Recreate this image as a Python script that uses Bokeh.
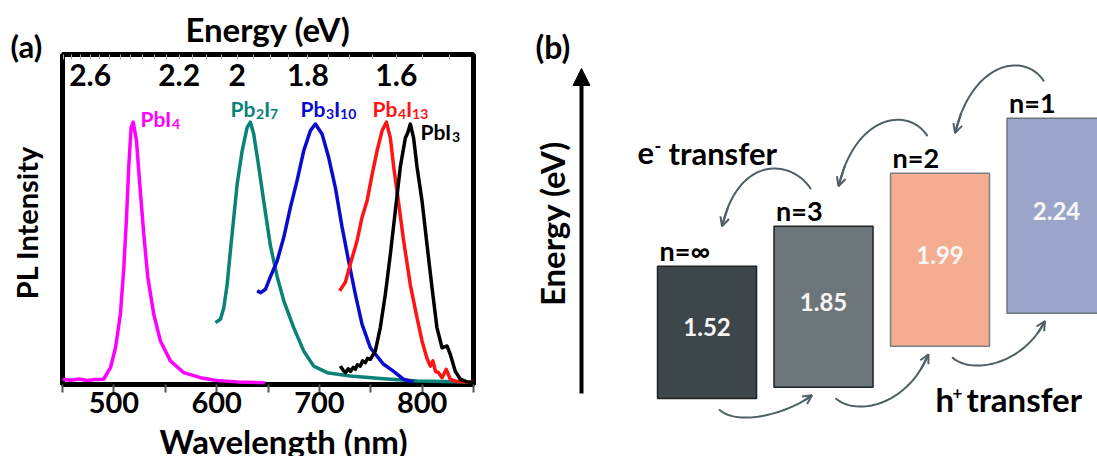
import numpy as np
from bokeh.plotting import figure
from bokeh.models import (Range1d, LinearAxis, FixedTicker, Label, Arrow,
                          OpenHead, NormalHead, ColumnDataSource)
from bokeh.layouts import row, column
from bokeh.core.properties import value
from bokeh.embed import file_html
from bokeh.resources import INLINE

FONT = "Lato"

# ---------------- (a) photoluminescence spectra ----------------
pbi4_nm = [450, 458, 466, 474, 482, 490, 496.7, 501.6, 506.4, 509.7, 512.3, 514.5, 516.8,
           518.8, 522, 525.2, 529.1, 533, 538.8, 545.3, 555, 568, 584.2, 600, 620, 647]
pbi4_int = [0.02, 0.016, 0.021, 0.015, 0.019, 0.02, 0.064, 0.14, 0.27, 0.446, 0.637, 0.83, 0.98,
            1.0, 0.93, 0.764, 0.573, 0.41, 0.268, 0.166, 0.09, 0.045, 0.026, 0.015, 0.01, 0.006]

pb2i7_nm = [598.8, 603.7, 607, 610.2, 613.4, 616.7, 620, 624.8, 629.7, 632.9, 636.1, 641,
            645.8, 652.3, 659, 665.3, 675, 684.7, 694.5, 707.5, 730, 762.5, 795, 845]
pb2i7_int = [0.236, 0.249, 0.293, 0.38, 0.51, 0.637, 0.764, 0.89, 0.98, 1.0, 0.955, 0.83,
             0.70, 0.53, 0.41, 0.32, 0.217, 0.128, 0.07, 0.045, 0.032, 0.022, 0.013, 0.01]

pb3i10_nm = [639.4, 643, 647.5, 652.3, 658.8, 665.3, 671.8, 678.3, 684.7, 691.2, 696.1,
             702.6, 709, 715.6, 722.1, 728.5, 735, 741.5, 749.6, 762.5, 772.3, 782, 791.7]
pb3i10_int = [0.357, 0.35, 0.363, 0.41, 0.47, 0.56, 0.675, 0.777, 0.89, 0.967, 0.993,
              0.955, 0.866, 0.75, 0.6, 0.47, 0.344, 0.23, 0.14, 0.077, 0.05, 0.02, 0.01]

pb4i13_nm = [719.7, 725.3, 730.2, 736.7, 741.5, 746.4, 751.3, 756.1, 761, 765.2, 769.1,
             772.3, 777.2, 782, 788.5, 795, 799.9, 804.7, 808, 810.5, 813, 816, 819.4,
             823.5, 827.4, 833, 840, 850]
pb4i13_int = [0.357, 0.39, 0.46, 0.548, 0.637, 0.70, 0.80, 0.89, 0.967, 1.0, 0.94,
              0.83, 0.69, 0.548, 0.38, 0.255, 0.166, 0.10, 0.07, 0.09, 0.05, 0.045, 0.026,
              0.058, 0.02, 0.012, 0.01, 0.01]

pbi3_nm = [720.4, 723, 725.3, 728, 730.2, 733, 735, 737, 739.9, 742, 744.7, 747, 749.6,
           754.5, 759.3, 764.2, 769.1, 773.9, 778.8, 783.7, 786, 788.5, 791.7, 795, 799.9,
           804.7, 809.6, 814.4, 819.4, 824.2, 827.4, 832.3, 837.2, 843.7, 850]
pbi3_int = [0.07, 0.055, 0.045, 0.06, 0.05, 0.065, 0.058, 0.075, 0.07, 0.09, 0.083, 0.1,
            0.096, 0.128, 0.217, 0.344, 0.497, 0.662, 0.83, 0.94, 0.96, 0.993, 0.94, 0.83,
            0.70, 0.535, 0.37, 0.217, 0.14, 0.147, 0.115, 0.05, 0.02, 0.01, 0.008]

series_nm = [pbi4_nm, pb2i7_nm, pb3i10_nm, pb4i13_nm, pbi3_nm]
series_int = [pbi4_int, pb2i7_int, pb3i10_int, pb4i13_int, pbi3_int]
series_colors = ["#ff00ff", "#0b8278", "#0a0ad0", "#ff1414", "#000000"]
# label text split into (text, is_subscript) pieces
series_labels = [
    [("PbI", 0), ("4", 1)],
    [("Pb", 0), ("2", 1), ("I", 0), ("7", 1)],
    [("Pb", 0), ("3", 1), ("I", 0), ("10", 1)],
    [("Pb", 0), ("4", 1), ("I", 0), ("13", 1)],
    [("PbI", 0), ("3", 1)],
]

wl_ticks = [500, 600, 700, 800]
wl_minor = [450, 550, 650, 750, 850]
energy_ticks = [2.6, 2.2, 2.0, 1.8, 1.6]
energy_labels = ["2.6", "2.2", "2", "1.8", "1.6"]
energy_minor = [round(1.45 + 0.05 * k, 2) for k in range(27)]

HC = 1239.84  # eV*nm, converts photon energy to wavelength

H = 456
SIDE_W = 58                       # strip holding the panel tag and the y title
A_W = 520 - SIDE_W
A_H = 426                         # spectra canvas; the x title sits in a strip below it
A_L, A_R, A_T, A_B = 4, 473 - SIDE_W, 54, 384   # frame edges inside the panel canvas
WL0, WL1 = 450, 850
I0, I1 = 0.0, 1.258


def no_frame_align(fig):
    # each canvas keeps its own frame instead of lining up with its neighbours
    if "frame_align" in fig.properties():
        fig.frame_align = False


def bare(fig):
    fig.xgrid.visible = False
    fig.ygrid.visible = False
    fig.outline_line_color = None
    fig.background_fill_color = "white"
    fig.border_fill_color = "white"
    no_frame_align(fig)


# left strip: panel tag and intensity title (pixel coordinates, y up)
ps = figure(frame_width=SIDE_W, frame_height=H, x_range=Range1d(0, SIDE_W), y_range=Range1d(0, H),
            title=None, x_axis_location=None, y_axis_location=None, min_border=0,
            output_backend="svg", toolbar_location=None)
bare(ps)
ps.text(x=[10], y=[H - 45], text=["(a)"], text_font=value(FONT), text_font_style="bold",
        text_font_size="31px", text_align="left", text_baseline="middle", text_color="black")
ps.text(x=[26], y=[H - 222], text=["PL Intensity"], angle=np.pi / 2, text_font=value(FONT),
        text_font_style="bold", text_font_size="29px", text_align="center",
        text_baseline="middle", text_color="black")

pa = figure(width=A_W, height=A_H, x_range=Range1d(WL0, WL1), y_range=Range1d(I0, I1),
            title=None, y_axis_location=None, output_backend="svg", toolbar_location=None,
            min_border_left=A_L, min_border_right=A_W - A_R,
            min_border_top=A_T, min_border_bottom=A_H - A_B)
pa.xgrid.visible = False
pa.ygrid.visible = False
pa.outline_line_color = "black"
pa.outline_line_width = 5
pa.background_fill_color = "white"
pa.border_fill_color = "white"
no_frame_align(pa)

ax = pa.xaxis[0]
ax.ticker = FixedTicker(ticks=wl_ticks, minor_ticks=wl_minor)
ax.axis_line_color = None
ax.major_tick_in = 0
ax.major_tick_out = 8
ax.minor_tick_in = 0
ax.minor_tick_out = 8
ax.major_tick_line_width = 2
ax.minor_tick_line_width = 2
ax.major_tick_line_color = "#555555"
ax.minor_tick_line_color = "#555555"
ax.major_label_text_font = FONT
ax.major_label_text_font_style = "bold"
ax.major_label_text_font_size = "29px"
ax.major_label_text_color = "black"
ax.major_label_standoff = -1

# inward minor ticks every 0.05 eV along the top edge
top = LinearAxis(ticker=FixedTicker(ticks=[], minor_ticks=[HC / e for e in energy_minor]),
                 axis_line_color=None, major_tick_in=0, major_tick_out=0,
                 minor_tick_in=5, minor_tick_out=0,
                 minor_tick_line_color="#aaaaaa", minor_tick_line_width=1,
                 axis_label="Energy (eV)", axis_label_text_font=FONT,
                 axis_label_text_font_style="bold", axis_label_text_font_size="33px",
                 axis_label_text_color="black", axis_label_standoff=6)
pa.add_layout(top, "above")

for nm, inten, col in zip(series_nm, series_int, series_colors):
    pa.line(nm, inten, line_color=col, line_width=3.5, line_join="round")

# energy scale labels, placed on the wavelength axis via E -> hc/E
pa.text(x=[HC / e for e in energy_ticks], y=[1.18] * len(energy_ticks), text=energy_labels,
        text_font=value(FONT), text_font_style="bold", text_font_size="30px",
        text_align="center", text_baseline="middle", text_color="black")

px_per_nm = (A_R - A_L) / (WL1 - WL0)
px_per_int = (A_B - A_T) / (I1 - I0)


def a_xy(sx, sy):
    """page pixel -> data coordinates of panel (a)"""
    return WL0 + (sx - SIDE_W - A_L) / px_per_nm, I0 + (A_B - sy) / px_per_int


# approximate advance widths (em) of Lato Bold glyphs used in the labels
ADV = {"P": 0.62, "b": 0.59, "I": 0.29, "0": 0.58, "1": 0.58, "2": 0.58, "3": 0.58,
       "4": 0.58, "7": 0.58}
MAIN, SUB = 21, 14
label_anchor = [(140, 117.5), (230, 107.5), (300, 107.5), (372, 107.5), (420, 130.5)]
for parts, col, (sx, sy) in zip(series_labels, series_colors, label_anchor):
    lx, ly = a_xy(sx, sy)
    off = 0.0
    for txt, sub in parts:
        size = SUB if sub else MAIN
        pa.text(x=[lx], y=[ly], text=[txt], x_offset=off, y_offset=6 if sub else 0,
                text_font=value(FONT), text_font_style="bold", text_font_size=f"{size}px",
                text_align="left", text_baseline="middle", text_color=col)
        off += sum(ADV.get(c, 0.55) for c in txt) * size

# strip under the spectra carrying the wavelength title
XT_H = H - A_H
pt = figure(frame_width=A_W, frame_height=XT_H, x_range=Range1d(0, A_W), y_range=Range1d(0, XT_H),
            title=None, x_axis_location=None, y_axis_location=None, min_border=0,
            output_backend="svg", toolbar_location=None)
bare(pt)
pt.text(x=[283 - SIDE_W], y=[H - 440], text=["Wavelength (nm)"], text_font=value(FONT),
        text_font_style="bold", text_font_size="33px", text_align="center",
        text_baseline="middle", text_color="black")

# ---------------- (b) band-alignment diagram ----------------
levels = ["n=\u221e", "n=3", "n=2", "n=1"]
gaps = [1.52, 1.85, 1.99, 2.24]
vb_offsets = [0.0, 0.13, 0.60, 0.98]
box_colors = ["#3d464a", "#6c767a", "#f5ad92", "#9ba5ca"]
box_edges = ["#1e2326", "#1e2326", "#7a7f82", "#6f7580"]
arrow_color = "#4f5f65"

B_X, B_W = 520, 577
SX, SY = 116.5, 87.0          # pixels per level slot, pixels per eV
X0 = -1.601
Y0 = -0.667
pb = figure(frame_width=B_W, frame_height=H, title=None,
            x_range=Range1d(X0, X0 + B_W / SX), y_range=Range1d(Y0, Y0 + H / SY),
            x_axis_location=None, y_axis_location=None, min_border=0,
            output_backend="svg", toolbar_location=None)
bare(pb)

idx = list(range(len(levels)))
half = 0.425
src = ColumnDataSource(dict(
    x=idx, left=[i - half for i in idx], right=[i + half for i in idx],
    bottom=vb_offsets, top=[v + g for v, g in zip(vb_offsets, gaps)],
    mid=[v + g / 2 for v, g in zip(vb_offsets, gaps)],
    gap_txt=[f"{g:.2f}" for g in gaps], name=levels,
    fill=box_colors, edge=box_edges))

pb.quad(left="left", right="right", bottom="bottom", top="top", source=src,
        fill_color="fill", line_color="edge", line_width=1.5)
pb.text(x="x", y="mid", text="gap_txt", source=src, y_offset=-5,
        text_font=value(FONT), text_font_style="bold", text_font_size="24px",
        text_align="center", text_baseline="middle", text_color="#f7f7f7")
pb.text(x="left", y="top", text="name", source=src, x_offset=2, y_offset=-16,
        text_font=value(FONT), text_font_style="bold", text_font_size="27px",
        text_align="left", text_baseline="middle", text_color="black")


def bez(p0, p1, p2, p3, n=40):
    t = np.linspace(0, 1, n)[:, None]
    pts = ((1 - t) ** 3) * np.array(p0) + 3 * ((1 - t) ** 2) * t * np.array(p1) \
        + 3 * (1 - t) * t ** 2 * np.array(p2) + t ** 3 * np.array(p3)
    return pts[:, 0], pts[:, 1]


def shift(p, dx, dy):
    """move a data point by a screen offset (right, up) in pixels"""
    return (p[0] + dx / SX, p[1] + dy / SY)


def curved_arrow(p0, c0, c1, p1):
    xs, ys = bez(p0, c0, c1, p1)
    pb.line(xs, ys, line_color=arrow_color, line_width=2)
    k = len(xs) - 5
    pb.add_layout(Arrow(end=OpenHead(size=9, line_color=arrow_color, line_width=2),
                        x_start=xs[k], y_start=ys[k], x_end=xs[-1], y_end=ys[-1],
                        line_color=arrow_color, line_width=2))


tops = [v + g for v, g in zip(vb_offsets, gaps)]
# electrons cascade from higher to lower conduction bands (above the boxes)
for i in range(len(levels) - 1, 0, -1):
    start = shift((i - half, tops[i]), 37, 37)
    tip = shift((i - 1, tops[i - 1]), 15, 40)
    curved_arrow(start, shift(start, -19, 30), shift(tip, 17, 72), tip)
# holes move toward higher valence bands (below the boxes)
for i in range(1, len(levels)):
    start = shift((i - 1, vb_offsets[i - 1]), 12, -11)
    tip = shift((i - half, vb_offsets[i]), 38, -8)
    rise = (tip[1] - start[1]) * SY
    curved_arrow(start, shift(start, 20, -18), shift(tip, -22, -1.2 * rise), tip)


def b_xy(sx, sy):
    """page pixel -> data coordinates of panel (b)"""
    return X0 + (sx - B_X) / SX, Y0 + (H - sy) / SY


# energy axis arrow
ax0 = b_xy(581, 393)
ax1 = b_xy(581, 68)
pb.add_layout(Arrow(end=NormalHead(size=17, fill_color="black", line_color="black", line_width=1),
                    x_start=ax0[0], y_start=ax0[1], x_end=ax1[0], y_end=ax1[1],
                    line_color="black", line_width=4))


def b_label(sx, sy, text, size, **kw):
    x, y = b_xy(sx, sy)
    opts = dict(text_font=FONT, text_font_style="bold", text_font_size=f"{size}px",
                text_color="black", text_align="left", text_baseline="middle")
    opts.update(kw)
    pb.add_layout(Label(x=x, y=y, text=text, **opts))


b_label(551, 223, "Energy (eV)", 33, angle=np.pi / 2, text_align="center")
b_label(535, 46, "(b)", 32)
b_label(637, 152, "e", 31)
b_label(654, 145, "-", 18)
b_label(668, 152, "transfer", 31)
b_label(935, 398, "h", 33)
b_label(952, 392, "+", 17)
b_label(966, 398, "transfer", 33)

layout = row(ps, column(pa, pt), pb)
open("out.html", "w").write(file_html(layout, INLINE))
